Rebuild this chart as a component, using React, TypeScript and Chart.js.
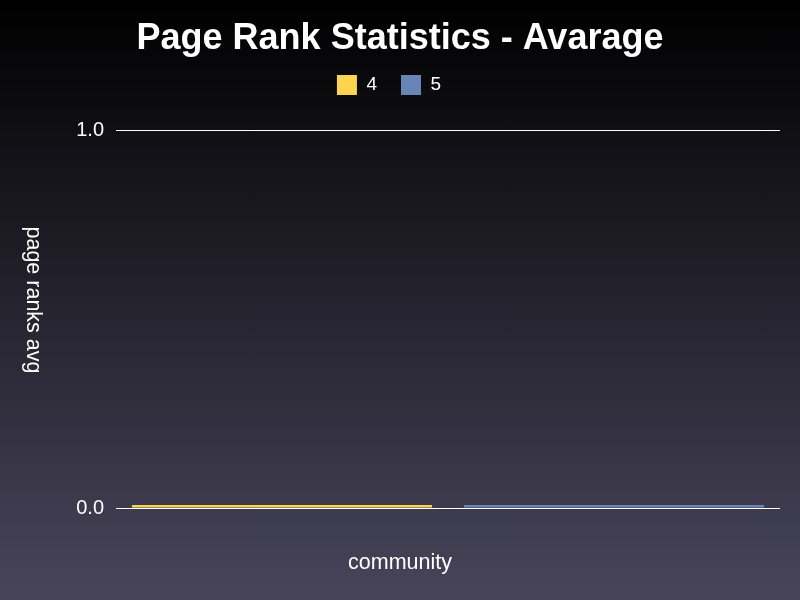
import React, { useEffect, useRef } from "react";
import { Chart, registerables } from "chart.js";

Chart.register(...registerables);

const categories = ["community"];
const seriesLabels = ["4", "5"];
const seriesValues = [[0.008], [0.008]];
const seriesColors = ["#fdd44f", "#6886b5"];
const yTicks = [0, 1];

const titleText = "Page Rank Statistics - Avarage";
const yTitle = "page ranks avg";
const xTitle = "community";

const FONT = "'Liberation Sans', Arial, Helvetica, sans-serif";

export default function App() {
  const ref = useRef<HTMLCanvasElement | null>(null);

  useEffect(() => {
    document.body.style.margin = "0";
    const axisTitlePlugin = {
      id: "axisTitles",
      afterLayout(chart: any) {
        const lg = chart.legend;
        if (lg) {
          lg.top -= 25;
          lg.bottom -= 25;
          lg.left -= 11;
          lg.right -= 11;
        }
      },
      afterDraw(chart: any) {
        const ctx = chart.ctx;
        ctx.save();
        ctx.fillStyle = "#ffffff";
        ctx.font = `21.5px ${FONT}`;
        ctx.textAlign = "center";
        ctx.textBaseline = "middle";
        ctx.translate(33, 300);
        ctx.rotate(Math.PI / 2);
        ctx.fillText(yTitle, 0, 0);
        ctx.restore();
        ctx.save();
        ctx.fillStyle = "#ffffff";
        ctx.font = `21.5px ${FONT}`;
        ctx.textAlign = "center";
        ctx.textBaseline = "middle";
        ctx.fillText(xTitle, 400, 563);
        ctx.restore();
      },
    };
    const chart = new Chart(ref.current as HTMLCanvasElement, {
      type: "bar",
      data: {
        labels: categories,
        datasets: seriesLabels.map((l, i) => ({
          label: l,
          data: seriesValues[i],
          backgroundColor: seriesColors[i],
          borderWidth: 0,
          minBarLength: 3,
          categoryPercentage: 1,
          barPercentage: 0.904,
        })),
      },
      options: {
        responsive: false,
        animation: false,
        font: { family: FONT },
        layout: { padding: 0 },
        plugins: {
          title: {
            display: true,
            text: titleText,
            color: "#ffffff",
            font: { family: FONT, size: 36, weight: "bold" },
            padding: { top: 17, bottom: 15.8 },
          },
          legend: {
            display: true,
            labels: {
              color: "#ffffff",
              font: { family: FONT, size: 19 },
              boxWidth: 20,
              boxHeight: 20,
              padding: 24,
              generateLabels: (chart: any) =>
                chart.data.datasets.map((d: any, i: number) => ({
                  text: d.label,
                  fillStyle: seriesColors[i],
                  strokeStyle: seriesColors[i],
                  lineWidth: 0,
                  fontColor: "#ffffff",
                  datasetIndex: i,
                  hidden: false,
                })),
            },
          },
          tooltip: { enabled: false },
        },
        scales: {
          x: {
            grid: { display: false },
            border: { display: false },
            ticks: { display: false },
            title: { display: false },
            afterFit: (s: any) => {
              s.height = 92;
            },
          },
          y: {
            min: yTicks[0],
            max: yTicks[yTicks.length - 1],
            grid: { color: "#ffffff", lineWidth: 1, drawTicks: false },
            border: { display: false },
            ticks: {
              stepSize: 1,
              color: "#ffffff",
              padding: 12,
              font: { family: FONT, size: 20 },
              callback: (v: any) => Number(v).toFixed(1),
            },
            afterFit: (s: any) => {
              s.width = 116;
            },
          },
          yRight: {
            type: "linear",
            position: "right",
            display: true,
            grid: { display: false, drawTicks: false },
            border: { display: false },
            ticks: { display: false },
            afterFit: (s: any) => {
              s.width = 20;
            },
          },
        },
      },
      plugins: [axisTitlePlugin],
    } as any);
    return () => chart.destroy();
  }, []);

  return (
    <div
      style={{
        position: "absolute",
        left: 0,
        top: 0,
        width: 800,
        height: 600,
        background: "linear-gradient(to bottom, #000000 0%, #48455b 100%)",
      }}
    >
      <canvas ref={ref} width={800} height={600} />
    </div>
  );
}
